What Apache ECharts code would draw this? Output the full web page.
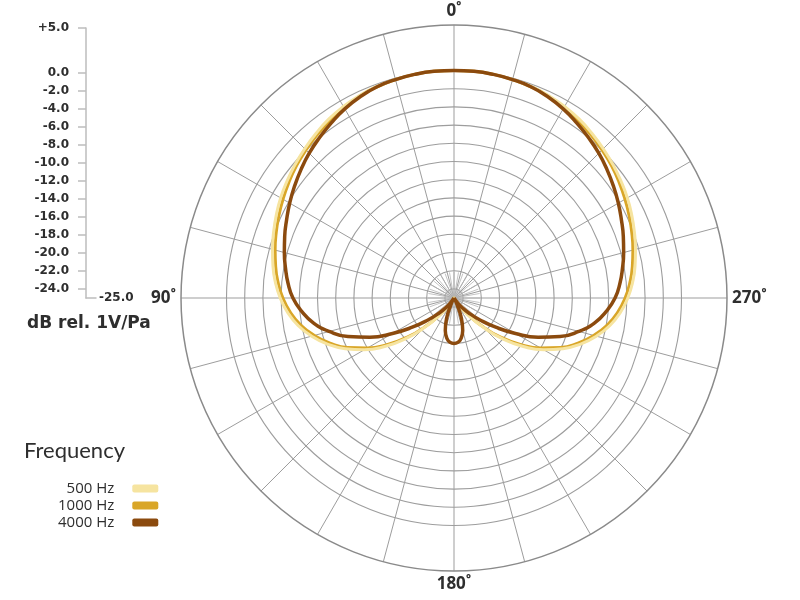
<!DOCTYPE html>
<html>
<head>
<meta charset="utf-8">
<script src="https://cdn.jsdelivr.net/npm/echarts@6/dist/echarts.min.js"></script>
<style>
  html, body { margin: 0; padding: 0; background: #fff; }
  #chart { width: 800px; height: 600px; }
</style>
</head>
<body>
<div id="chart"></div>
<script>
// polar response, dB rel. 1V/Pa, angle in degrees (0 = front, counter-clockwise)
const angles = [
  0, 5, 10, 15, 20, 25, 30, 35, 40, 45, 50, 55, 60, 65, 70, 75, 80, 85,
  90, 95, 100, 105, 110, 115, 120, 125, 130, 135, 140, 145, 150, 155, 160, 165, 170, 175,
  180, 185, 190, 195, 200, 205, 210, 215, 220, 225, 230, 235, 240, 245, 250, 255, 260, 265,
  270, 275, 280, 285, 290, 295, 300, 305, 310, 315, 320, 325, 330, 335, 340, 345, 350, 355, 360]

const hz500 = [
  0, 0, -0.05, -0.15, -0.25, -0.45, -0.7, -1.0, -1.4, -1.8, -2.2, -2.6, -3.0, -3.45, -3.9, -4.35, -4.8, -5.3,
  -5.9, -6.65, -7.6, -8.8, -10.2, -11.8, -13.6, -15.7, -18.0, -20.4, -22.5, -23.9, -24.7, -25, -25, -25, -25, -25,
  -25, -25, -25, -25, -25, -25, -24.7, -23.9, -22.5, -20.4, -18.0, -15.7, -13.6, -11.8, -10.2, -8.8, -7.6, -6.65,
  -5.9, -5.3, -4.8, -4.35, -3.9, -3.45, -3.0, -2.6, -2.2, -1.8, -1.4, -1.0, -0.7, -0.45, -0.25, -0.15, -0.05, 0, 0]

const hz1000 = [
  0, 0, -0.05, -0.15, -0.3, -0.5, -0.8, -1.2, -1.6, -2.0, -2.4, -2.85, -3.3, -3.75, -4.2, -4.65, -5.1, -5.6,
  -6.2, -6.95, -7.9, -9.1, -10.5, -12.1, -14.0, -16.1, -18.3, -20.6, -22.7, -24.1, -24.8, -25, -25, -25, -25, -25,
  -25, -25, -25, -25, -25, -25, -24.8, -24.1, -22.7, -20.6, -18.3, -16.1, -14.0, -12.1, -10.5, -9.1, -7.9, -6.95,
  -6.2, -5.6, -5.1, -4.65, -4.2, -3.75, -3.3, -2.85, -2.4, -2.0, -1.6, -1.2, -0.8, -0.5, -0.3, -0.15, -0.05, 0, 0]

const hz4000 = [
  0, 0, -0.05, -0.15, -0.3, -0.6, -1.0, -1.5, -2.0, -2.5, -3.05, -3.6, -4.15, -4.7, -5.2, -5.7, -6.2, -6.7,
  -7.3, -8.2, -9.3, -10.8, -12.6, -14.8, -17.2, -19.4, -21.2, -22.6, -23.7, -24.5, -25, -24.2, -22.6, -21.3, -20.5, -20.1,
  -20.0, -20.1, -20.5, -21.3, -22.6, -24.2, -25, -24.5, -23.7, -22.6, -21.2, -19.4, -17.2, -14.8, -12.6, -10.8, -9.3, -8.2,
  -7.3, -6.7, -6.2, -5.7, -5.2, -4.7, -4.15, -3.6, -3.05, -2.5, -2.0, -1.5, -1.0, -0.6, -0.3, -0.15, -0.05, 0, 0]

const scaleTicks = [5, 0, -2, -4, -6, -8, -10, -12, -14, -16, -18, -20, -22, -24]
const seriesNames = ['500 Hz', '1000 Hz', '4000 Hz']

const toPolar = vals => vals.map((v, i) => [v, angles[i]])

const center = [454, 298]
const gridCol = '#9d9d9d'
const txt = '#2e2e2e'
const scaleFont = { fontFamily: 'DejaVu Sans', fontSize: 12, fontWeight: 'bold', color: txt }

const chart = echarts.init(document.getElementById('chart'))
chart.setOption({
  backgroundColor: '#fff',
  animation: false,
  textStyle: { fontFamily: 'Open Sans' },
  polar: [
    { center: center, radius: 273 },      // full plot, -25..+5 dB
    { center: center, radius: 227.5 },    // ring grid, 0 dB down to -24 dB
    { center: center, radius: 26 }        // fine spokes near centre
  ],
  angleAxis: [
    { polarIndex: 0, type: 'value', min: 0, max: 360, interval: 15, startAngle: 90, clockwise: false,
      axisLine: { lineStyle: { color: '#8a8a8a', width: 1.5 } },
      axisTick: { show: false },
      axisLabel: { margin: 5, fontSize: 17, fontWeight: 'bold', color: txt,
        formatter: v => (v % 90 === 0 && v < 360) ? v + '˚' : '' },
      splitLine: { lineStyle: { color: gridCol, width: 1 } } },
    { polarIndex: 1, type: 'value', min: 0, max: 360, startAngle: 90, clockwise: false,
      axisLine: { show: false }, axisTick: { show: false }, axisLabel: { show: false }, splitLine: { show: false } },
    { polarIndex: 2, type: 'value', min: 0, max: 360, interval: 10, startAngle: 90, clockwise: false,
      axisLine: { show: false }, axisTick: { show: false }, axisLabel: { show: false },
      splitLine: { lineStyle: { color: '#b5b5b5', width: 0.8 } } }
  ],
  radiusAxis: [
    { polarIndex: 0, type: 'value', min: -25, max: 5,
      axisLine: { show: false }, axisTick: { show: false }, axisLabel: { show: false }, splitLine: { show: false } },
    { polarIndex: 1, type: 'value', min: 0, max: 25, interval: 2, inverse: true,
      axisLine: { show: false }, axisTick: { show: false }, axisLabel: { show: false },
      splitLine: { lineStyle: { color: gridCol, width: 1.1 } } },
    { polarIndex: 2, type: 'value', min: 0, max: 1,
      axisLine: { show: false }, axisTick: { show: false }, axisLabel: { show: false }, splitLine: { show: false } }
  ],
  // left dB scale
  grid: { left: 86, top: 28, width: 10, height: 270 },
  xAxis: { type: 'value', min: 0, max: 1, position: 'bottom',
    axisLine: { onZero: false, lineStyle: { color: '#bdbdbd', width: 1.5 } },
    axisTick: { show: false }, axisLabel: { show: false }, splitLine: { show: false },
    name: '-25.0', nameLocation: 'end', nameGap: 3, nameTextStyle: scaleFont },
  yAxis: { type: 'value', min: -25, max: 5, position: 'left',
    axisLine: { show: true, onZero: false, lineStyle: { color: '#bdbdbd', width: 1.5 } },
    axisTick: { show: true, length: 8, customValues: scaleTicks, lineStyle: { color: '#bdbdbd', width: 1.5 } },
    axisLabel: Object.assign({ margin: 17, customValues: scaleTicks,
      formatter: v => (v > 0 ? '+' : '') + v.toFixed(1) }, scaleFont),
    splitLine: { show: false } },
  legend: {
    data: seriesNames, orient: 'vertical', left: 53, top: 476, align: 'right',
    itemWidth: 26, itemHeight: 8, itemGap: 2, icon: 'roundRect',
    textStyle: { fontSize: 15, color: txt, padding: [0, 13, 0, 0] }
  },
  graphic: [
    { type: 'text', left: 27, top: 315, style: { text: 'dB rel. 1V/Pa', font: 'bold 17px "DejaVu Sans"', fill: txt } },
    { type: 'text', left: 24, top: 440, style: { text: 'Frequency', font: '22px Lato', fill: txt } }
  ],
  series: [
    { name: '1000 Hz', type: 'line', coordinateSystem: 'polar', polarIndex: 0, symbol: 'none', smooth: true,
      data: toPolar(hz1000), color: '#d9a628', lineStyle: { color: '#d9a628', width: 3 } },
    { name: '500 Hz', type: 'line', coordinateSystem: 'polar', polarIndex: 0, symbol: 'none', smooth: true,
      data: toPolar(hz500), color: '#f6e4a0', lineStyle: { color: '#f6e4a0', width: 3 } },
    { name: '4000 Hz', type: 'line', coordinateSystem: 'polar', polarIndex: 0, symbol: 'none', smooth: true,
      data: toPolar(hz4000), color: '#8b4a0e', lineStyle: { color: '#8b4a0e', width: 3.5 } }
  ]
})
</script>
</body>
</html>
